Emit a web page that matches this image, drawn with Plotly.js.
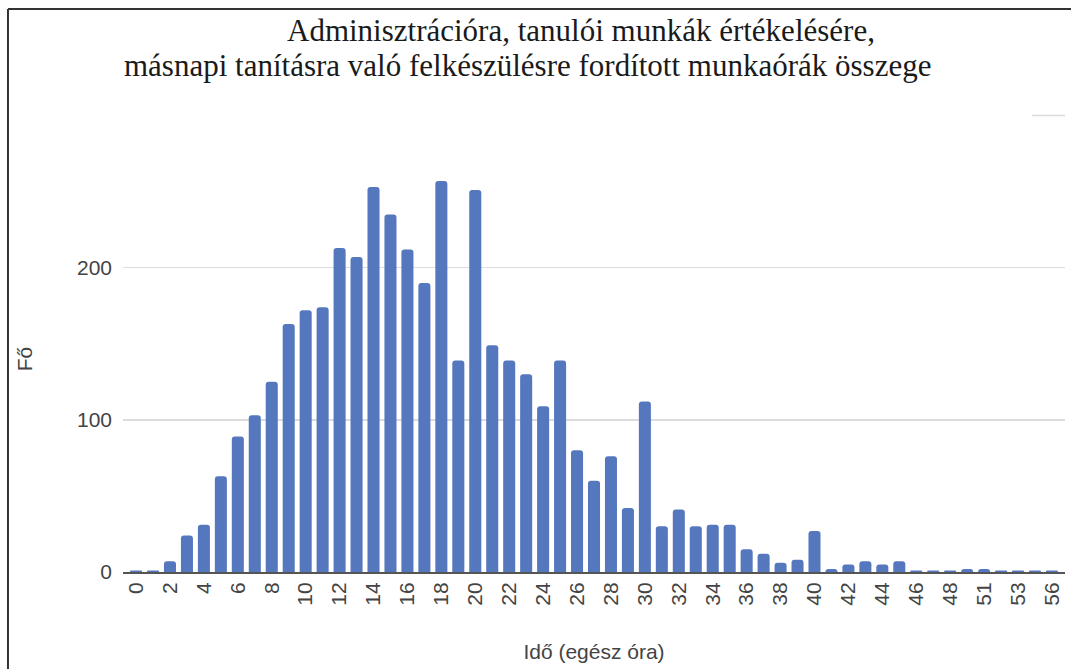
<!DOCTYPE html>
<html>
<head>
<meta charset="utf-8">
<script src="https://cdn.plot.ly/plotly-3.0.1.min.js"></script>
<style>html,body{margin:0;padding:0;background:#fff;}#chart{width:1071px;height:669px;}</style>
</head>
<body>
<div id="chart"></div>
<script>
// Hours (categories) and number of people (Fő)
const hours = ['0','1','2','3','4','5','6','7','8','9','10','11','12','13','14','15','16','17','18','19',
  '20','21','22','23','24','25','26','27','28','29','30','31','32','33','34','35','36','37','38','39',
  '40','41','42','43','44','45','46','47','48','50','51','52','53','55','56'];
const people = [1,1,7,24,31,63,89,103,125,163,172,174,213,207,253,235,212,190,257,139,
  251,149,139,130,109,139,80,60,76,42,112,30,41,30,31,31,15,12,6,8,
  27,2,5,7,5,7,1,1,1,2,2,1,1,1,1];
const xTickLabels = ['0','2','4','6','8','10','12','14','16','18','20','22','24','26','28','30',
  '32','34','36','38','40','42','44','46','48','51','53','56'];
const yTickValues = [0,100,200];
const titleLine1 = 'Adminisztrációra, tanulói munkák értékelésére,';
const titleLine2 = 'másnapi tanításra való felkészülésre fordított munkaórák összege';

const trace = {
  type: 'bar',
  x: hours,
  y: people,
  marker: {color: '#5577bd', cornerradius: 3},
  hoverinfo: 'x+y'
};

const serif = 'Liberation Serif, Times New Roman, serif';
const sans = 'Liberation Sans, Arial, sans-serif';

const layout = {
  width: 1071,
  height: 669,
  margin: {l: 123, r: 6, t: 146, b: 97},
  paper_bgcolor: '#ffffff',
  plot_bgcolor: '#ffffff',
  showlegend: false,
  bargap: 0.29,
  font: {family: sans, color: '#444'},
  xaxis: {
    type: 'category',
    range: [-0.77, 54.77],
    tickmode: 'array',
    tickvals: xTickLabels,
    ticktext: xTickLabels,
    tickangle: -90,
    tickfont: {family: sans, size: 21, color: '#444'},
    ticks: '',
    showgrid: false,
    zeroline: false,
    showline: true,
    linecolor: '#555',
    linewidth: 2,
    automargin: false,
    title: {text: 'Idő (egész óra)', font: {family: sans, size: 21, color: '#444'}, standoff: 40}
  },
  yaxis: {
    range: [0, 280],
    tickmode: 'array',
    tickvals: yTickValues,
    tickfont: {family: sans, size: 21, color: '#444'},
    ticks: '',
    ticklabelstandoff: 10,
    showgrid: true,
    gridcolor: '#dcdcdc',
    gridwidth: 1.5,
    zeroline: false,
    showline: false,
    automargin: false,
    title: {text: 'Fő', font: {family: sans, size: 21, color: '#444'}, standoff: 38}
  },
  annotations: [
    {text: titleLine1, xref: 'paper', yref: 'paper', x: 0.4862, y: 1.2723, xanchor: 'center', yanchor: 'middle',
     borderpad: 0, showarrow: false, font: {family: serif, size: 31, color: '#1a1a1a'}},
    {text: titleLine2, xref: 'paper', yref: 'paper', x: 0.4299, y: 1.1901, xanchor: 'center', yanchor: 'middle',
     borderpad: 0, showarrow: false, font: {family: serif, size: 31, color: '#1a1a1a'}}
  ],
  shapes: [
    // short visible piece of the 300 gridline at top right
    {type: 'line', xref: 'paper', yref: 'paper', x0: 0.965, x1: 1.0, y0: 300/280, y1: 300/280,
     line: {color: '#dcdcdc', width: 1.5}},
    // frame: top and left edges
    {type: 'line', xref: 'paper', yref: 'paper', x0: -0.1221, x1: 1.01, y0: 1.3216, y1: 1.3216,
     line: {color: '#333', width: 2}},
    {type: 'line', xref: 'paper', yref: 'paper', x0: -0.1221, x1: -0.1221, y0: 1.3216, y1: -0.23,
     line: {color: '#333', width: 2}}
  ]
};

Plotly.newPlot('chart', [trace], layout, {displayModeBar: false, staticPlot: true});
</script>
</body>
</html>
